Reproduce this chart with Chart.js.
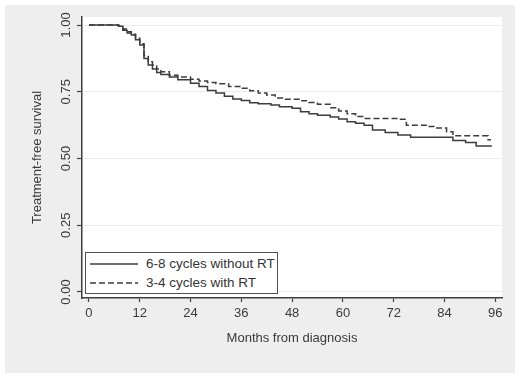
<!DOCTYPE html>
<html><head><meta charset="utf-8">
<script src="https://cdn.jsdelivr.net/npm/chart.js@4.4.0/dist/chart.umd.min.js"></script>
<style>
html,body{margin:0;padding:0;background:#fff;}
#wrap{position:relative;width:520px;height:380px;overflow:hidden;}
#legend{position:absolute;left:85px;top:252px;width:191px;height:40px;border:1.5px solid #505050;background:#fff;font:13.5px 'Liberation Sans',Arial,sans-serif;color:#333;}
.lg-line{position:absolute;left:3px;}
.lg-text{position:absolute;left:60px;line-height:16px;white-space:nowrap;}
</style></head><body>
<div id="wrap"><canvas id="c" width="520" height="380"></canvas><div id="legend"></div></div>
<script>
const xTicks = [0, 12, 24, 36, 48, 60, 72, 84, 96];
const yTicks = [0, 0.25, 0.5, 0.75, 1];
const seriesNames = ['6-8 cycles without RT', '3-4 cycles with RT'];

const monthsA = [0, 6, 7, 8, 9, 10, 11, 12, 13, 14, 15, 16, 17, 19, 21, 24, 26, 28, 30, 32, 34, 36, 38, 40, 43, 45, 48, 50, 52, 54, 57, 59, 61, 63, 65, 67, 70, 73, 76, 85.5, 86, 89, 91.5, 95.2];
const survA   = [1, 1, 0.995, 0.98, 0.97, 0.963, 0.945, 0.925, 0.875, 0.85, 0.835, 0.822, 0.815, 0.805, 0.795, 0.782, 0.77, 0.755, 0.745, 0.733, 0.723, 0.717, 0.709, 0.705, 0.7, 0.694, 0.688, 0.675, 0.668, 0.662, 0.655, 0.648, 0.638, 0.632, 0.625, 0.607, 0.597, 0.588, 0.58, 0.58, 0.567, 0.56, 0.547, 0.547];

const monthsB = [0, 6, 7, 8, 9, 10, 11, 12, 13, 14, 15, 16, 17, 19, 21, 24, 26, 28, 30, 33, 36, 38, 40, 42, 44, 46, 50, 52, 54, 57, 59, 61, 63, 65, 68, 73, 75, 80, 81.5, 84.5, 86, 94, 94.3, 95];
const survB   = [1, 1, 0.995, 0.985, 0.975, 0.965, 0.95, 0.93, 0.885, 0.862, 0.85, 0.835, 0.825, 0.812, 0.805, 0.797, 0.79, 0.785, 0.78, 0.77, 0.763, 0.754, 0.745, 0.738, 0.727, 0.722, 0.716, 0.71, 0.703, 0.69, 0.678, 0.668, 0.657, 0.65, 0.65, 0.647, 0.625, 0.62, 0.614, 0.6, 0.585, 0.585, 0.57, 0.57];

const FONT = "'Liberation Sans', Arial, sans-serif";
const INK = '#3a3a3a';

const bgPlugin = {
  id: 'bg',
  beforeDraw(chart) {
    const {ctx, chartArea: a} = chart;
    ctx.save();
    ctx.fillStyle = '#ffffff';
    ctx.fillRect(0, 0, chart.width, chart.height);
    ctx.fillStyle = '#eeeeee';
    ctx.fillRect(5, 5, 510, 368);
    ctx.fillStyle = '#ffffff';
    ctx.fillRect(a.left, a.top, a.right - a.left, a.bottom - a.top);
    ctx.restore();
  }
};

const toPts = (xs, ys) => xs.map((m, i) => ({x: m, y: ys[i]}));

const chart = new Chart(document.getElementById('c'), {
  type: 'line',
  data: {
    datasets: [
      {label: seriesNames[0], data: toPts(monthsA, survA), borderColor: '#3c3c3c', borderWidth: 1.5, pointRadius: 0, stepped: true, fill: false},
      {label: seriesNames[1], data: toPts(monthsB, survB), borderColor: '#3c3c3c', borderWidth: 1.5, borderDash: [6, 3], pointRadius: 0, stepped: true, fill: false}
    ]
  },
  options: {
    responsive: false,
    animation: false,
    devicePixelRatio: 1,
    layout: {padding: {left: 0, top: 17, right: 18, bottom: 0}},
    plugins: {legend: {display: false}, tooltip: {enabled: false}},
    scales: {
      x: {
        type: 'linear', min: -1.65, max: 97.6,
        afterBuildTicks: s => { s.ticks = xTicks.map(v => ({value: v})); },
        afterFit: s => { s.height = 82; },
        ticks: {color: INK, font: {family: FONT, size: 13}, padding: 4, maxRotation: 0, autoSkip: false, callback: v => String(v)},
        grid: {drawOnChartArea: false, tickLength: 4, tickColor: '#404040', tickWidth: 1.2},
        border: {color: '#404040', width: 1.5},
        title: {display: true, text: 'Months from diagnosis', color: INK, font: {family: FONT, size: 13}, padding: {top: 0, bottom: 34}}
      },
      y: {
        type: 'linear', min: -0.0225, max: 1.03,
        afterBuildTicks: s => { s.ticks = yTicks.map(v => ({value: v})); },
        afterFit: s => { s.width = 82; },
        ticks: {color: INK, font: {family: FONT, size: 13}, padding: -2, minRotation: 90, maxRotation: 90, crossAlign: 'center', autoSkip: false, callback: v => Number(v).toFixed(2)},
        grid: {color: '#ececec', lineWidth: 1, tickLength: 5, tickColor: '#404040', tickWidth: 1.2},
        border: {color: '#404040', width: 1.5},
        title: {display: true, text: 'Treatment-free survival', color: INK, font: {family: FONT, size: 13}, padding: {top: 30, bottom: 0}}
      }
    }
  },
  plugins: [bgPlugin]
});

// HTML legend built from the chart's datasets
const lg = document.getElementById('legend');
const rowCenters = [10.5, 29.5];
chart.data.datasets.forEach((ds, i) => {
  const c = rowCenters[i];
  const svg = document.createElementNS('http://www.w3.org/2000/svg', 'svg');
  svg.setAttribute('width', '50'); svg.setAttribute('height', '6');
  svg.setAttribute('class', 'lg-line');
  svg.style.top = (c - 3) + 'px';
  const ln = document.createElementNS('http://www.w3.org/2000/svg', 'line');
  ln.setAttribute('x1', '1'); ln.setAttribute('x2', '49'); ln.setAttribute('y1', '3'); ln.setAttribute('y2', '3');
  ln.setAttribute('stroke', ds.borderColor); ln.setAttribute('stroke-width', ds.borderWidth);
  if (ds.borderDash) ln.setAttribute('stroke-dasharray', ds.borderDash.join(' '));
  svg.appendChild(ln);
  lg.appendChild(svg);
  const t = document.createElement('span');
  t.className = 'lg-text';
  t.style.top = (c - 8) + 'px';
  t.textContent = ds.label;
  lg.appendChild(t);
});
</script>
</body></html>
